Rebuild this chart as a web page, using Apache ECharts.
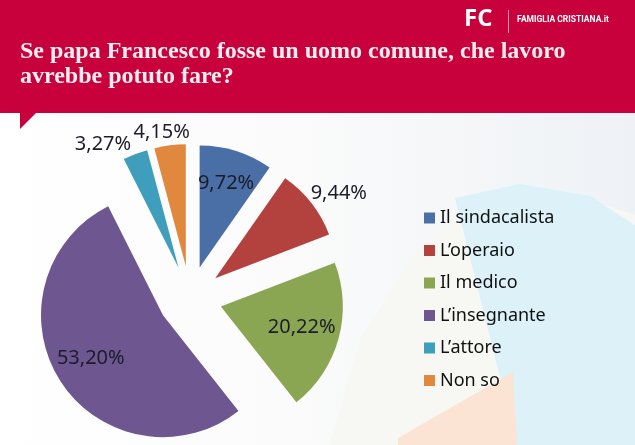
<!DOCTYPE html>
<html><head><meta charset="utf-8">
<script src="https://cdn.jsdelivr.net/npm/echarts@6/dist/echarts.min.js"></script>
<style>html,body{margin:0;padding:0;background:#fff}#c{width:635px;height:445px}</style>
</head><body><div id="c"></div>
<script>
const categories = ['Il sindacalista', 'L\u2019operaio', 'Il medico', 'L\u2019insegnante', 'L\u2019attore', 'Non so'];
const values = [9.72, 9.44, 20.22, 53.20, 3.27, 4.15];
const sliceColors = ['#4a6fa6', '#b3423f', '#8ba653', '#6e5791', '#3f9ebc', '#e0883d'];
const labelOutside = [false, true, false, false, true, true];

// label layout tweaks (pixels), kept apart from the data
const labelNudge = [[0, 0], [7, 6], [-4, -3], [2, -4], [-23, 15], [-5, 13]];

const total = values.reduce((a, b) => a + b, 0);
const mids = [];
let cum = 0;
values.forEach(v => { mids.push((cum + v / 2) / total * Math.PI * 2); cum += v; });

const chart = echarts.init(document.getElementById('c'), null, {renderer: 'canvas'});
chart.setOption({
  animation: false,
  backgroundColor: '#fdfdfc',
  graphic: [
    {type: 'rect', z: -10, silent: true, shape: {x: 0, y: 113, width: 635, height: 332},
      style: {fill: new echarts.graphic.LinearGradient(0, 0, 1, 0, [
        {offset: 0, color: '#ffffff'}, {offset: 0.45, color: '#fbfbfb'}, {offset: 1, color: '#eef2f6'}])}},
    {type: 'polygon', z: -9, silent: true, shape: {points: [[330, 445], [360, 340], [410, 260], [470, 205], [560, 190], [635, 215], [635, 445]]},
      style: {fill: '#f7f7f3'}},
    {type: 'polygon', z: -8, silent: true, shape: {points: [[455, 198], [520, 184], [590, 196], [635, 225], [635, 445], [517, 445]]},
      style: {fill: '#dcf1f8'}},
    {type: 'polygon', z: -8, silent: true, shape: {points: [[398, 438], [513, 372], [517, 445], [398, 445]]},
      style: {fill: '#fbe4d4'}},
    {type: 'rect', z: 5, silent: true, shape: {x: 0, y: 0, width: 635, height: 113}, style: {fill: '#c8003b'}},
    {type: 'polygon', z: 5, silent: true, shape: {points: [[20, 112], [37, 112], [20, 129]]}, style: {fill: '#c8003b'}},
    {type: 'text', z: 6, silent: true, left: 464, top: 7,
      style: {text: 'FC', fill: '#ffffff', font: 'bold 24px "Open Sans", "Noto Sans", sans-serif'}},
    {type: 'rect', z: 6, silent: true, shape: {x: 508, y: 10, width: 1, height: 23}, style: {fill: 'rgba(255,255,255,0.55)'}},
    {type: 'text', z: 6, silent: true, left: 517, top: 15,
      style: {text: 'FAMIGLIA CRISTIANA.it', fill: '#ffffff', font: 'bold 8.5px "Roboto", sans-serif'}}
  ],
  title: {
    text: 'Se papa Francesco fosse un uomo comune, che lavoro\navrebbe potuto fare?',
    left: 20, top: 39, padding: 0, z: 7,
    textStyle: {color: '#fbeef1', fontFamily: '"Liberation Serif", serif', fontWeight: 'bold', fontSize: 24, lineHeight: 25}
  },
  legend: {
    orient: 'vertical', left: 424, top: 208, padding: 0, itemWidth: 11, itemHeight: 11, itemGap: 12.5,
    icon: 'rect', selectedMode: false,
    textStyle: {fontSize: 18, fontFamily: '"Noto Sans", sans-serif', color: '#111', lineHeight: 20},
    data: categories
  },
  series: [{
    type: 'pie',
    center: [190, 298],
    radius: 122,
    startAngle: 90,
    clockwise: true,
    selectedMode: 'multiple',
    selectedOffset: 32,
    emphasis: {disabled: true},
    select: {disabled: false, itemStyle: {borderWidth: 0}},
    itemStyle: {borderWidth: 0},
    labelLine: {show: false},
    label: {
      show: true, position: 'inside', fontSize: 20, fontFamily: '"Noto Sans", sans-serif', color: '#1c1c2a',
      formatter: p => values[p.dataIndex].toFixed(2).replace('.', ',') + '%'
    },
    labelLayout: p => {
      const i = p.dataIndex;
      const extra = (labelOutside[i] ? 145 : 85) - 61;
      return {dx: extra * Math.sin(mids[i]) + labelNudge[i][0], dy: -extra * Math.cos(mids[i]) + labelNudge[i][1]};
    },
    data: categories.map((name, i) => ({
      name, value: values[i], selected: true,
      itemStyle: {color: sliceColors[i]},
      select: {itemStyle: {color: sliceColors[i]}}
    }))
  }]
});
</script></body></html>
